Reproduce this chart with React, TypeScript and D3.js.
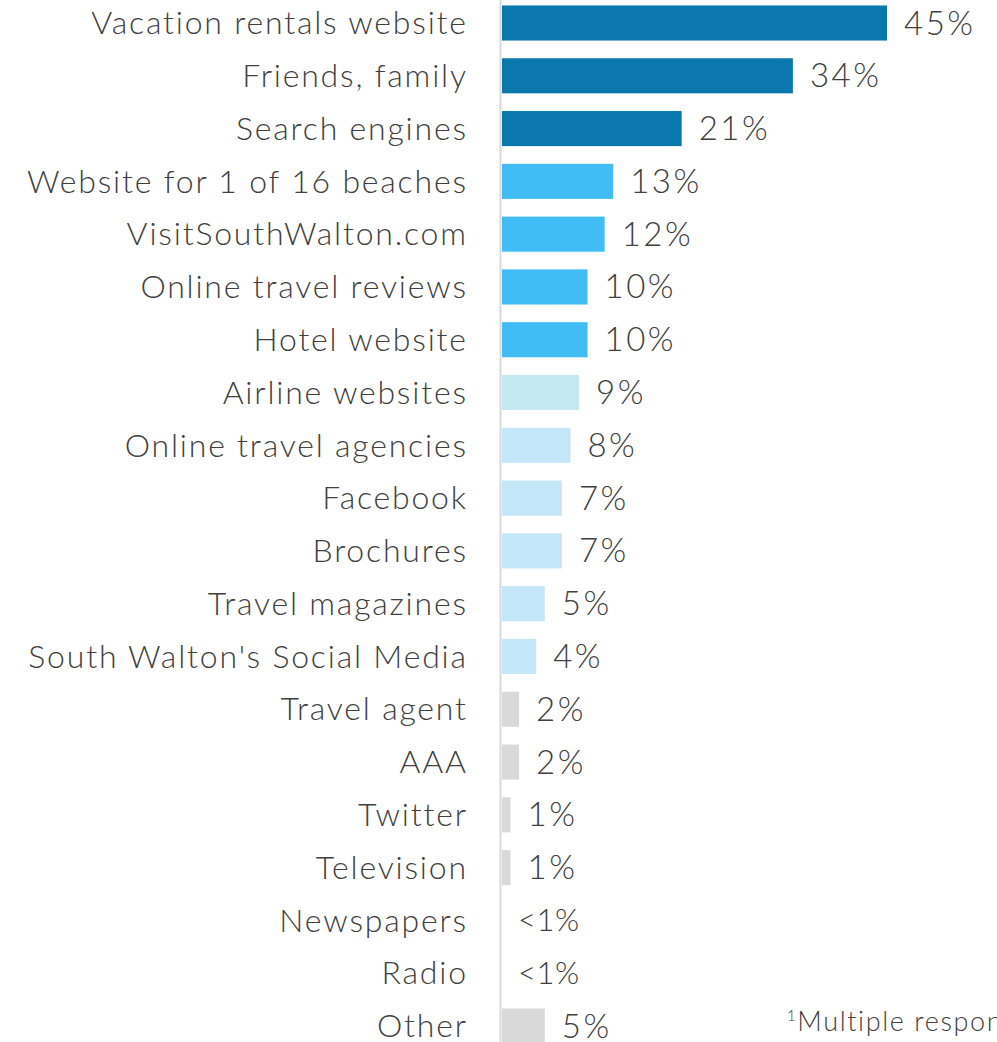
import React from "react";
import * as d3 from "d3";

const categories = [
  "Vacation rentals website",
  "Friends, family",
  "Search engines",
  "Website for 1 of 16 beaches",
  "VisitSouthWalton.com",
  "Online travel reviews",
  "Hotel website",
  "Airline websites",
  "Online travel agencies",
  "Facebook",
  "Brochures",
  "Travel magazines",
  "South Walton's Social Media",
  "Travel agent",
  "AAA",
  "Twitter",
  "Television",
  "Newspapers",
  "Radio",
  "Other",
];
const values = [45, 34, 21, 13, 12, 10, 10, 9, 8, 7, 7, 5, 4, 2, 2, 1, 1, 0, 0, 5];
const valueLabels = ["45%", "34%", "21%", "13%", "12%", "10%", "10%", "9%", "8%", "7%", "7%", "5%", "4%", "2%", "2%", "1%", "1%", "<1%", "<1%", "5%"];
const groups = ["top", "top", "top", "mid", "mid", "mid", "mid", "air", "light", "light", "light", "light", "light", "gray", "gray", "gray", "gray", "gray", "gray", "gray"];
const groupColors: Record<string, string> = {
  top: "#0b78ad",
  mid: "#42bcf5",
  air: "#c4e8f1",
  light: "#c3e7f8",
  gray: "#d9d9d9",
};
const footnote = "Multiple responses allowed";

export default function App() {
  const W = 997, H = 1042;
  const x0 = 502;
  const x = d3.scaleLinear().domain([0, 45]).range([x0, 887]);
  const y = d3.scaleBand().domain(categories).range([-3, 1052]).paddingInner(0.335).paddingOuter(0.16);
  const font = "Lato, 'Noto Sans', sans-serif";
  const textColor = "#404040";
  const ls = 1.8;
  return (
    <svg width={W} height={H} style={{ position: "absolute", left: 0, top: 0, background: "#fff" }}>
      <line x1={500.5} x2={500.5} y1={0} y2={H} stroke="#d9d9d9" strokeWidth={2} />
      {categories.map((c, i) => {
        const yc = (y(c) as number) + y.bandwidth() / 2;
        const isLt = valueLabels[i].startsWith("<");
        return (
          <g key={c}>
            <rect x={x0} y={y(c)} width={x(values[i]) - x0} height={y.bandwidth()} fill={groupColors[groups[i]]} />
            <text x={466 + ls} y={yc} dy="0.35em" textAnchor="end" fontFamily={font} fontWeight={300} fontSize={32} letterSpacing={ls} fill={textColor}>{c}</text>
            <text x={values[i] > 0 ? x(values[i]) + 17 : x0 + 16} y={yc} dy="0.35em" fontFamily={font} fontWeight={300} fontSize={isLt ? 31 : 33} letterSpacing={isLt ? 0.5 : 2.5} fill={textColor}>{valueLabels[i]}</text>
          </g>
        );
      })}
      <text x={787} y={1031} fontFamily={font} fontWeight={300} fontSize={27} letterSpacing={1.6} fill={textColor}>
        <tspan fontSize={15} dy={-10}>1</tspan>
        <tspan dy={10}>{footnote}</tspan>
      </text>
    </svg>
  );
}
